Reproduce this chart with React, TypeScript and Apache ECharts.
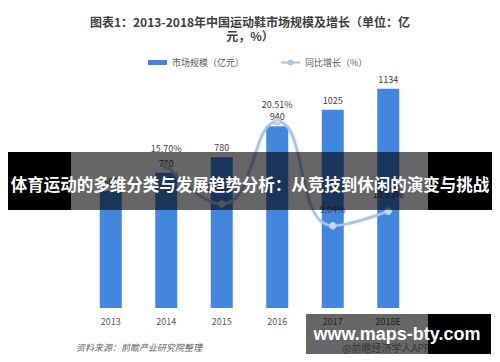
import React, { useEffect, useRef } from "react";
import * as echarts from "echarts";

const categories = ["2013", "2014", "2015", "2016", "2017", "2018E"];
const marketSize = [605, 700, 780, 940, 1025, 1134];
const growth: (number | null)[] = [null, 15.7, 11.43, 20.51, 9.04, 10.63];

const titleText = "图表1：2013-2018年中国运动鞋市场规模及增长（单位：亿\n元，%）";
const bannerText = "体育运动的多维分类与发展趋势分析：从竞技到休闲的演变与挑战";
const sourceText = "资料来源：前瞻产业研究院整理";
const siteText = "www.maps-bty.com";
const appText = "@前瞻经济学人APP";

export default function App() {
  const ref = useRef<HTMLDivElement>(null);
  useEffect(() => {
    if (!ref.current) return;
    const chart = echarts.init(ref.current, undefined, { renderer: "svg" });
    const font = "'Noto Sans CJK SC', 'Noto Sans', sans-serif";
    chart.setOption({
      animation: false,
      backgroundColor: "#ffffff",
      textStyle: { fontFamily: font },
      title: {
        text: titleText,
        left: "center",
        top: 9,
        textStyle: { fontSize: 12, fontWeight: "bold", color: "#404040", lineHeight: 14, fontFamily: font },
      },
      legend: {
        top: 53,
        left: 143,
        itemGap: 36,
        itemWidth: 19,
        itemHeight: 5,
        textStyle: { fontSize: 9, color: "#595959", fontFamily: font },
        data: [
          { name: "市场规模（亿元）", icon: "rect" },
          { name: "同比增长（%）" },
        ],
      },
      grid: { left: 83, right: 84, top: 76, bottom: 54 },
      xAxis: {
        type: "category",
        data: categories,
        axisLine: { show: false },
        axisTick: { show: false },
        axisLabel: { color: "#595959", fontSize: 9, margin: 9 },
      },
      yAxis: [
        { type: "value", min: 0, max: 1200, show: false, splitLine: { show: false } },
        { type: "value", min: 0, max: 25.5, show: false, splitLine: { show: false } },
      ],
      series: [
        {
          name: "市场规模（亿元）",
          type: "bar",
          data: marketSize,
          barWidth: 22,
          itemStyle: { color: "#4286de" },
          label: { show: true, position: "top", distance: 5, color: "#404040", fontSize: 9 },
          z: 2,
        },
        {
          name: "同比增长（%）",
          type: "line",
          yAxisIndex: 1,
          data: growth,
          smooth: 0.5,
          symbol: "circle",
          symbolSize: 7,
          itemStyle: { color: "#c9d8ee", borderColor: "#a9c2e4", borderWidth: 1 },
          lineStyle: { color: "#a9c3e5", width: 2.5, shadowColor: "rgba(120,160,220,0.4)", shadowBlur: 3 },
          label: {
            show: true,
            position: "top",
            distance: 8,
            color: "#404040",
            fontSize: 9,
            formatter: (p: any) => (p.value == null ? "" : Number(p.value).toFixed(2) + "%"),
          },
          z: 5,
        },
      ],
      graphic: [
        {
          type: "text",
          left: 76,
          top: 343,
          z: 10,
          style: { text: sourceText, fill: "#666666", font: "italic 9px " + font },
        },
        {
          type: "text",
          left: 342,
          top: 342,
          z: 10,
          style: { text: appText, fill: "#8a8a8a", font: "10px " + font },
        },
        // banner
        { type: "rect", z: 100, shape: { x: 0, y: 152, width: 71, height: 58 }, style: { fill: "#000000" } },
        { type: "rect", z: 100, shape: { x: 71, y: 152, width: 357, height: 58 }, style: { fill: "rgba(0,0,0,0.6)" } },
        { type: "rect", z: 100, shape: { x: 428, y: 152, width: 72, height: 58 }, style: { fill: "#000000" } },
        {
          type: "text",
          z: 101,
          x: 250,
          y: 184,
          style: {
            text: bannerText,
            fill: "#ffffff",
            font: "bold 16.5px " + font,
            textAlign: "center",
            textVerticalAlign: "middle",
          },
        },
        // watermark box
        { type: "rect", z: 100, shape: { x: 306, y: 314, width: 122, height: 43 }, style: { fill: "rgba(0,0,0,0.6)" } },
        { type: "rect", z: 100, shape: { x: 428, y: 314, width: 63, height: 43 }, style: { fill: "#000000" } },
        {
          type: "text",
          z: 101,
          x: 397,
          y: 334,
          style: {
            text: siteText,
            fill: "#ffffff",
            font: "bold 18px 'Liberation Sans', Arial, sans-serif",
            textAlign: "center",
            textVerticalAlign: "middle",
          },
        },
      ],
    });
    return () => chart.dispose();
  }, []);
  return <div ref={ref} style={{ width: 500, height: 362, margin: -8 }} />;
}
